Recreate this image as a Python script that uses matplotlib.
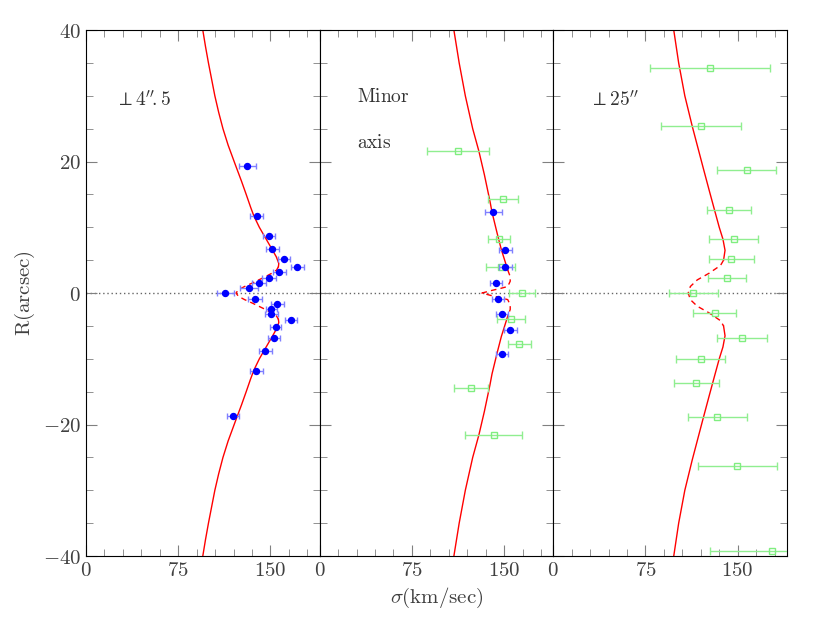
import numpy as np
import matplotlib
matplotlib.use('Agg')
import matplotlib.pyplot as plt
from matplotlib.ticker import MultipleLocator, FuncFormatter

plt.rcParams.update({'mathtext.fontset': 'cm', 'font.family': 'serif', 'font.size': 14})

# --- panel 1: perpendicular slit at 4".5 (blue points)
p1_R = [19.3, 11.7, 8.7, 6.7, 5.2, 3.95, 3.15, 2.33, 1.52, 0.81, 0.0, -0.87, -1.63,
        -2.43, -3.24, -4.06, -5.22, -6.84, -8.77, -11.8, -18.7]
p1_sig = [131.0, 138.8, 148.9, 151.6, 160.8, 171.8, 157.1, 148.6, 140.8, 132.3, 113.3,
          137.2, 155.7, 150.6, 150.6, 166.9, 154.3, 152.7, 145.9, 138.6, 119.8]
p1_err = [6.9, 5.3, 4.6, 5.2, 5.0, 5.3, 5.2, 5.8, 6.0, 7.2, 6.8, 5.7, 5.2, 4.5, 5.2,
          5.0, 4.6, 5.0, 5.4, 5.4, 5.0]

# --- panel 2: minor axis, blue and green data
p2b_R = [12.3, 6.59, 3.95, 1.57, -0.91, -3.19, -5.58, -9.3]
p2b_sig = [141.3, 151.1, 151.1, 143.2, 144.9, 148.7, 155.2, 148.2]
p2b_err = [6.9, 5.4, 5.2, 4.9, 5.0, 4.9, 5.6, 4.9]
p2g_R = [21.6, 14.25, 8.17, 3.9, 0.0, -3.95, -7.7, -14.45, -21.6]
p2g_sig = [112.5, 148.9, 146.1, 147.5, 164.7, 155.5, 162.4, 123.1, 141.6]
p2g_err = [25.0, 12.3, 9.0, 11.8, 10.6, 11.4, 9.5, 13.7, 23.0]

# --- panel 3: perpendicular slit at 25" (green)
p3_R = [34.2, 25.4, 18.7, 12.6, 8.2, 5.2, 2.24, 0.0, -3.04, -6.84, -9.99, -13.7,
        -18.86, -26.3, -39.2]
p3_sig = [127.4, 120.4, 157.3, 142.9, 146.7, 144.8, 141.0, 113.9, 131.2, 153.3, 119.8,
          116.3, 133.4, 149.8, 177.5]
p3_err = [48.9, 32.6, 23.9, 18.2, 20.1, 18.3, 15.5, 19.8, 17.3, 20.4, 20.2, 18.2, 24.2,
          31.8, 50.0]

# --- model curves (upper half, mirrored below); outer part solid, inner part dashed
m1_R_out = [40, 37.5, 35, 32.5, 30, 27.5, 25, 22.5, 19.5, 17, 15, 13, 11.7, 10, 8.7,
            7.5, 6.7, 5.5, 4.5, 4.0]
m1_sig_out = [95, 97.2, 99.6, 102.2, 104.8, 107.9, 111.4, 115.6, 121.5, 126.5, 130.3,
              134, 136.6, 141, 145, 148.7, 151.2, 154.8, 156.8, 156.5]
m1_R_in = [4.0, 3.5, 3.0, 2.5, 2.0, 1.5, 1.0, 0.5, 0.0]
m1_sig_in = [156.5, 155, 151, 146, 140.5, 135, 129, 124, 122]

m2_R_out = [40, 35, 30, 25, 21.6, 18, 14, 12.3, 9, 6.6, 5, 3.5]
m2_sig_out = [109.2, 113.5, 118.5, 124.5, 129.5, 134, 138.5, 140.2, 144.5, 147.8, 150.5, 153]
m2_R_in = [3.5, 2.5, 1.8, 1.0, 0.7, 0.4, 0.0]
m2_sig_in = [153, 155, 155, 153, 147, 140, 132]

m3_R_out = [40, 35, 30, 25.4, 19, 15.5, 12.6, 10, 8.2, 6.5, 5.0]
m3_sig_out = [98, 102, 107, 113, 122, 127, 131.2, 135, 138, 139.7, 138.5]
m3_R_in = [5.0, 4.2, 3.0, 2.0, 1.0, 0.0]
m3_sig_in = [138.5, 136, 126.6, 117.1, 111.5, 109.8]


def draw_model(ax, R_out, sig_out, R_in, sig_in):
    R_out, sig_out = np.array(R_out), np.array(sig_out)
    ax.plot(sig_out, R_out, color='red', lw=1)
    ax.plot(sig_out, -R_out, color='red', lw=1)
    R_in, sig_in = np.array(R_in), np.array(sig_in)
    ax.plot(np.r_[sig_in, sig_in[::-1][1:]], np.r_[R_in, -R_in[::-1][1:]],
            color='red', lw=1, ls=(0, (4, 3)))


def blue(ax, R, sig, err):
    ax.errorbar(sig, R, xerr=err, fmt='o', color='#0000ff', ms=4.3, ecolor='#8080ff',
                elinewidth=1, capsize=2.5, capthick=1, zorder=4)


def green(ax, R, sig, err):
    ax.errorbar(sig, R, xerr=err, fmt='s', mfc='none', mec='#80ee80', ms=4.5, mew=1,
                ecolor='#90ee90', elinewidth=1, capsize=3, capthick=1, zorder=3)


fig, axes = plt.subplots(1, 3, sharey=True, figsize=(8.38, 6.27), dpi=100)
fig.subplots_adjust(left=0.1026, right=0.939, bottom=0.1132, top=0.952, wspace=0)

draw_model(axes[0], m1_R_out, m1_sig_out, m1_R_in, m1_sig_in)
blue(axes[0], p1_R, p1_sig, p1_err)

draw_model(axes[1], m2_R_out, m2_sig_out, m2_R_in, m2_sig_in)
green(axes[1], p2g_R, p2g_sig, p2g_err)
blue(axes[1], p2b_R, p2b_sig, p2b_err)

draw_model(axes[2], m3_R_out, m3_sig_out, m3_R_in, m3_sig_in)
green(axes[2], p3_R, p3_sig, p3_err)

axes[0].text(24, 29.4, r'$\perp 4^{\prime\prime}\!.5$', va='center', color='0.2')
axes[1].text(30, 29.8, r'$\mathrm{Minor}$', va='center', color='0.2')
axes[1].text(30, 22.8, r'$\mathrm{axis}$', va='center', color='0.2')
axes[2].text(29, 29.4, r'$\perp 25^{\prime\prime}$', va='center', color='0.2')

fmt = FuncFormatter(lambda v, p: '$%g$' % v)
for ax in axes:
    ax.axhline(0, color='0.4', lw=1, ls=(0, (1, 2)), zorder=1)
    ax.set_xlim(0, 190)
    ax.set_ylim(-40, 40)
    ax.xaxis.set_major_locator(MultipleLocator(75))
    ax.xaxis.set_minor_locator(MultipleLocator(15))
    ax.yaxis.set_major_locator(MultipleLocator(20))
    ax.yaxis.set_minor_locator(MultipleLocator(5))
    ax.xaxis.set_major_formatter(fmt)
    ax.yaxis.set_major_formatter(fmt)
    ax.tick_params(which='both', direction='in', top=True, right=True, color='0.5')
    ax.tick_params(which='major', length=8, labelsize=15, labelcolor='0.25')
    ax.tick_params(which='minor', length=5)

axes[0].set_ylabel(r'$\mathrm{R(arcsec)}$', fontsize=15, color='0.25', labelpad=4)
axes[1].set_xlabel(r'$\sigma(\mathrm{km/sec})$', fontsize=15, color='0.25', labelpad=4)

plt.savefig('out.png', dpi=100)
